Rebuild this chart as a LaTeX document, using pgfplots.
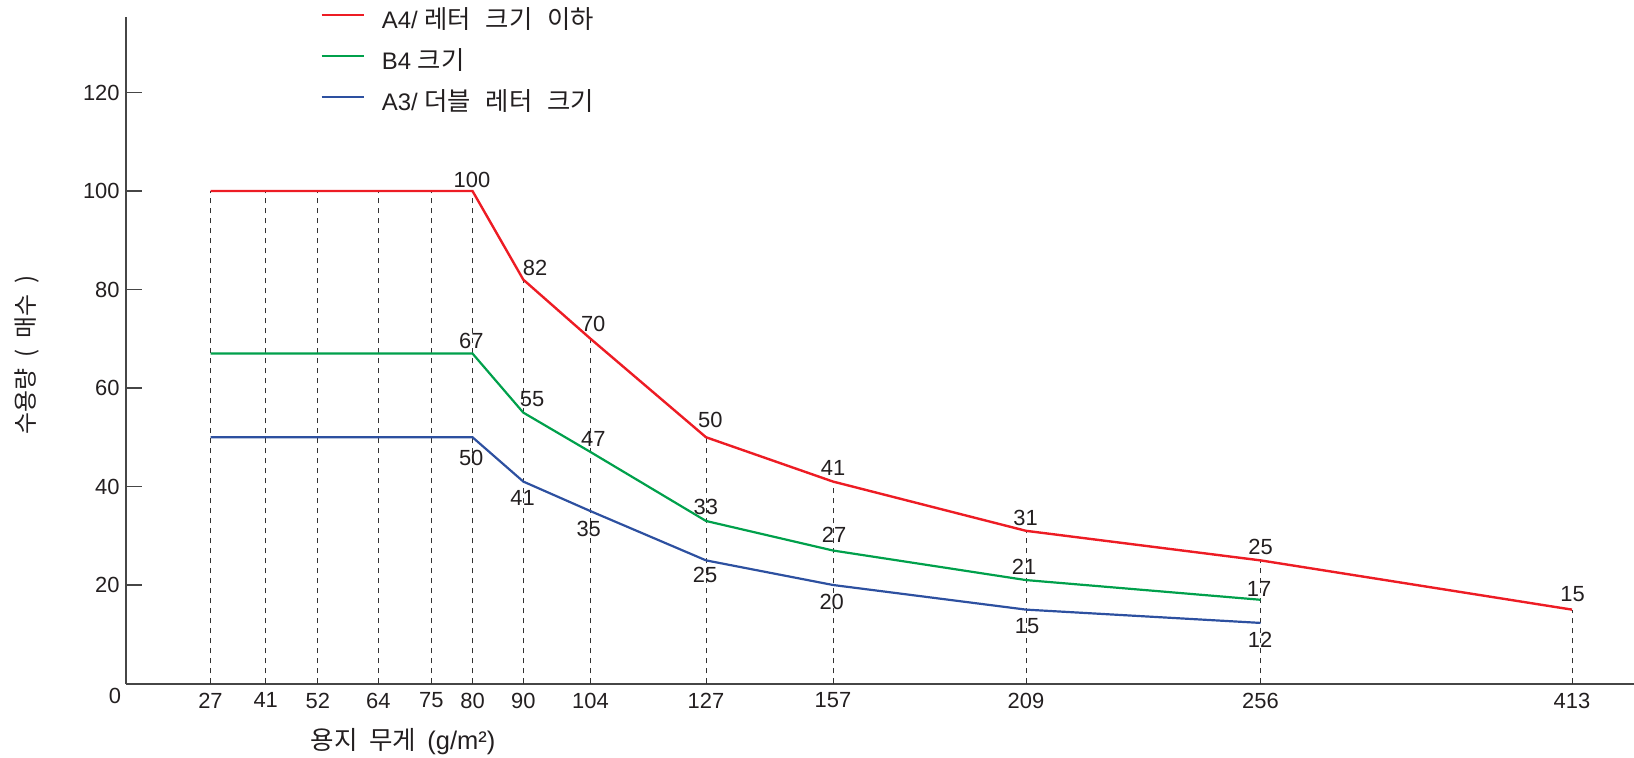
\documentclass[border=0pt]{standalone}
\usepackage{fontspec}
\setmainfont{Liberation Sans}
\newfontfamily\kr{Noto Sans CJK KR}[WordSpace=2.6, Scale=1.06]
\newfontfamily\krb{Noto Sans CJK KR}[WordSpace=2]
\usepackage{pgfplots}
\usepackage{pgfplotstable}
\pgfplotsset{compat=1.18}
\definecolor{cred}{RGB}{237,28,36}
\definecolor{cgreen}{RGB}{0,160,75}
\definecolor{cblue}{RGB}{45,80,160}
\definecolor{axgray}{RGB}{70,70,70}
\definecolor{dgray}{RGB}{50,50,50}
\definecolor{txt}{RGB}{35,31,32}
\tikzset{dl/.style={inner sep=0pt, font=\fontsize{11}{13}\selectfont, text=txt}}

% x = position along the (non-linear) weight axis; labels are the weights
\pgfplotstableread{
x y
210.5 100
265.7 100
317.8 100
378.3 100
431.4 100
472.5 100
523.3 82
590.5 70
706 50
833 41
1026 31
1260.5 25
1572 15
}\redtab
\pgfplotstableread{
x y
210.5 67
472.5 67
523.3 55
590.5 47
706 33
833 27
1026 21
1260.5 17
}\greentab
\pgfplotstableread{
x y
210.5 50
472.5 50
523.3 41
590.5 35
706 25
833 20
1026 15
1260.5 12.3
}\bluetab

\begin{document}
\begin{tikzpicture}
\begin{axis}[
  scale only axis,
  width=754bp, height=333.25bp,
  at={(63bp,37.25bp)}, anchor=south west,
  xmin=126, xmax=1634, ymin=0, ymax=135.33,
  clip=false,
  axis lines=left,
  axis line style={-, draw=axgray, line width=1bp},
  xtick={210.5,265.7,317.8,378.3,431.4,472.5,523.3,590.5,706,833,1026,1260.5,1572},
  xticklabels={27,41,52,64,75,80,90,104,127,157,209,256,413},
  ytick={20,40,60,80,100,120},
  tick align=inside,
  major tick length=7.8bp,
  major x tick style={draw=none},
  major y tick style={draw=axgray, line width=0.6bp},
  /pgf/number format/assume math mode=true,
  yticklabel style={inner sep=0pt, anchor=east, xshift=-3bp, font=\fontsize{11}{13}\selectfont, text=txt},
  xticklabel style={inner sep=0pt, anchor=north, yshift=-4.5bp, font=\fontsize{11}{13}\selectfont, text=txt},
  xlabel={\krb 용지 무게 \fontspec{Liberation Sans}(g/m²)},
  every axis x label/.style={at={(rel axis cs:0.1837,-0.087)}, anchor=center, inner sep=0pt, font=\fontsize{12.8}{14}\selectfont, text=txt},
  ylabel={\krb 수용량 ( 매수 )},
  every axis y label/.style={at={(rel axis cs:-0.06585,0.493)}, rotate=90, anchor=center, inner sep=0pt, font=\fontsize{12}{14}\selectfont, text=txt},
  legend cell align=left,
  legend style={draw=none, fill=none, at={(axis cs:320.5,136.55)}, anchor=north west,
    inner sep=0pt, outer sep=0pt, row sep=9bp, column sep=8.5bp,
    font=\fontsize{12}{13}\selectfont, text=txt,
    nodes={inner sep=0pt, text height=9bp, text depth=2.5bp}},
  legend image code/.code={\draw[#1] (0bp,3.75bp) -- (21bp,3.75bp);},
]
\addplot[ycomb, draw=dgray, dash pattern=on 2.5bp off 2.5bp, line width=0.5bp, forget plot] table {\redtab};
\addplot[cred, line width=1.2bp] table {\redtab};
\addlegendentry{A4/ {\kr 레터 크기 이하}}
\addplot[cgreen, line width=1.1bp] table {\greentab};
\addlegendentry{B4 {\kr 크기}}
\addplot[cblue, line width=1.1bp] table {\bluetab};
\addlegendentry{A3/ {\kr 더블 레터 크기}}

% red labels
\node[dl] at (axis cs:472,102.34) {100};
\node[dl] at (axis cs:535,84.47) {82};
\node[dl] at (axis cs:593.2,72.95) {70};
\node[dl] at (axis cs:710.3,53.5) {50};
\node[dl] at (axis cs:833,43.7) {41};
\node[dl] at (axis cs:1025.5,33.67) {31};
\node[dl] at (axis cs:1260.5,27.78) {25};
\node[dl] at (axis cs:1572.5,18.13) {15};
% green labels
\node[dl] at (axis cs:471.3,69.5) {67};
\node[dl] at (axis cs:532,57.73) {55};
\node[dl] at (axis cs:593.3,49.6) {47};
\node[dl] at (axis cs:705.8,35.9) {33};
\node[dl] at (axis cs:834,30.15) {27};
\node[dl] at (axis cs:1024,23.72) {21};
\node[dl] at (axis cs:1259,19.13) {17};
% blue labels
\node[dl] at (axis cs:471.2,45.89) {50};
\node[dl] at (axis cs:522.5,37.77) {41};
\node[dl] at (axis cs:588.7,31.37) {35};
\node[dl] at (axis cs:705,22.03) {25};
\node[dl] at (axis cs:831.7,16.61) {20};
\node[dl] at (axis cs:1027,11.74) {15};
\node[dl] at (axis cs:1260,8.83) {12};
% zero at origin
\node[dl] at (axis cs:115,-2.44) {0};
\end{axis}
\pgfresetboundingbox
\path[use as bounding box] (0,0) rectangle (817bp,379bp);
\end{tikzpicture}
\end{document}
